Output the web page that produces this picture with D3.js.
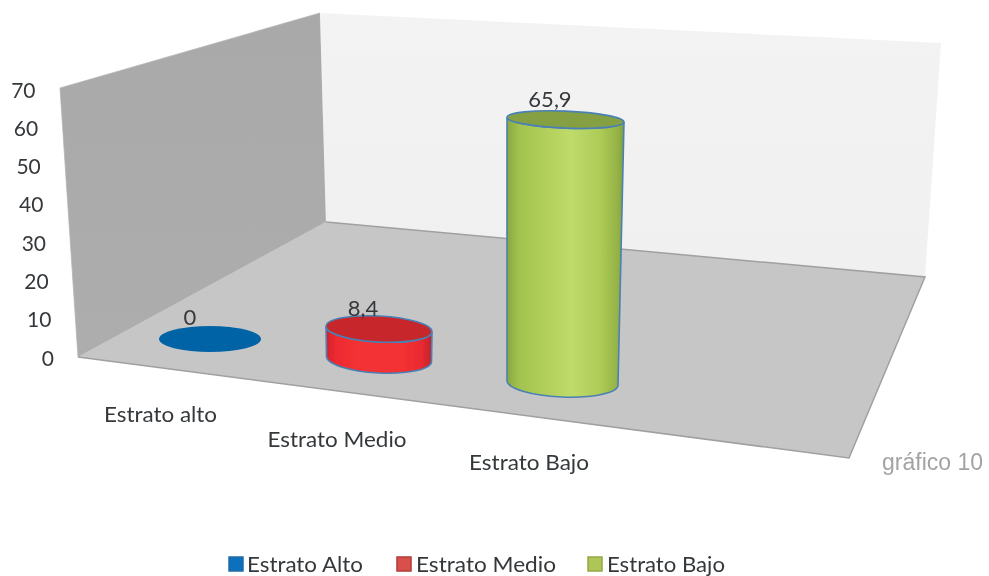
<!DOCTYPE html>
<html><head><meta charset="utf-8">
<script src="https://cdn.jsdelivr.net/npm/d3@7"></script>
<style>html,body{margin:0;padding:0;background:#fff;overflow:hidden}svg{display:block}</style>
</head><body><svg id="c" width="989" height="576"></svg>
<script>
const categories=["Estrato alto","Estrato Medio","Estrato Bajo"];
const legendLabels=["Estrato Alto","Estrato Medio","Estrato Bajo"];
const values=[0,8.4,65.9];
const valueLabels=["0","8,4","65,9"];
const yTicks=[0,10,20,30,40,50,60,70];
const footnote="gráfico 10";

const W=989,H=576,idx=[0,1,2];
const svg=d3.select("#c").attr("viewBox",`0 0 ${W} ${H}`);
const defs=svg.append("defs");
const F="Lato, 'Open Sans', sans-serif", INK="#36393b";

defs.append("filter").attr("id","soft").append("feGaussianBlur").attr("stdDeviation",0.55);
function grad(id,stops,x2=1,y2=0){
  const g=defs.append("linearGradient").attr("id",id).attr("x1",0).attr("y1",0).attr("x2",x2).attr("y2",y2);
  stops.forEach(s=>g.append("stop").attr("offset",s[0]).attr("stop-color",s[1]));
}
grad("gRed",[[0,"#d3222c"],[0.1,"#ee2a30"],[0.3,"#f33234"],[0.7,"#f33234"],[0.9,"#e92a30"],[1,"#c1232b"]]);
grad("gGreen",[[0,"#87a83f"],[0.1,"#a2c24f"],[0.4,"#b6d35f"],[0.55,"#bfdb6b"],[0.8,"#aecb57"],[0.95,"#93b145"],[1,"#7f9f3b"]]);
grad("gLeft",[[0,"#a9a9a9"],[1,"#adadad"]],0,1);
grad("gBack",[[0,"#f3f3f3"],[1,"#f0f0f0"]],0,1);

// Perspective scales
const yScale=d3.scaleLinear().domain([0,70]).range([357,88]);
const tickX=d3.scaleLinear().domain([0,70]).range([54,35.5]);
const tickY=d3.scaleLinear().domain([0,70]).range([358,90]);
const cx=d3.scaleLinear().domain(idx).range([210,379,562.5]);
const cyBase=d3.scaleLinear().domain(idx).range([339,359,383]);
const rxBase=d3.scaleLinear().domain(idx).range([51,52.5,55.5]);
const ryBase=d3.scaleLinear().domain(idx).range([13,14,14]);
const topRy=d3.scaleLinear().domain(idx).range([13,13,8.5]);
const depth=d3.scaleLinear().domain(idx).range([0.92,0.93,1.04]);
const poly=p=>d3.line()(p)+"Z";

const chart=svg.append("g").attr("filter","url(#soft)");
// walls and floor
chart.append("path").attr("d",poly([[60,88],[320,13],[326,222],[78,357]])).attr("fill","url(#gLeft)").attr("stroke","#b4b4b4").attr("stroke-width",0.8);
chart.append("path").attr("d",poly([[320,13],[941,43],[925,277],[326,222]])).attr("fill","url(#gBack)");
chart.append("path").attr("d",poly([[78,357],[326,222],[925,277],[849,458]])).attr("fill","#c6c6c6");
chart.append("path").attr("d",d3.line()([[326,222],[925,277],[849,458],[78,357]])).attr("fill","none").attr("stroke","#a0a0a0").attr("stroke-width",1.5);

const EDGE="#4a80b5";
// blue disc
chart.append("ellipse").attr("cx",cx(0)).attr("cy",cyBase(0)).attr("rx",rxBase(0)).attr("ry",ryBase(0))
  .attr("fill","#0364a6");

// cylinders
function cyl(i,side,top){
  const h=(yScale(0)-yScale(values[i]))*depth(i);
  const x0=cx(i), b=cyBase(i), t=b-h;
  const tx=x0+(i===2?3:0), rxT=rxBase(i)+(i===2?3:0.5), ryT=topRy(i), ryB=ryBase(i), rxB=rxBase(i);
  const tilt=i===2?2.4:3;
  const rad=tilt*Math.PI/180, dy=Math.sin(rad);
  const tl=[tx-rxT,t-rxT*dy], tr=[tx+rxT,t+rxT*dy];
  const bl=[x0-rxB,b-rxB*dy], br=[x0+rxB,b+rxB*dy];
  chart.append("path")
    .attr("d",`M${tl}L${bl}A${rxB},${ryB} ${tilt} 0 0 ${br}L${tr}A${rxT},${ryT} ${tilt} 0 1 ${tl}Z`)
    .attr("fill",side).attr("stroke",EDGE).attr("stroke-width",1.6);
  chart.append("ellipse").attr("rx",rxT).attr("ry",ryT)
    .attr("transform",`translate(${tx},${t}) rotate(${tilt})`)
    .attr("fill",top).attr("stroke",EDGE).attr("stroke-width",1.6);
}
cyl(1,"url(#gRed)","#c7252b");
cyl(2,"url(#gGreen)","#84a043");

// text
const text=svg.append("g").attr("font-family",F).attr("fill",INK).attr("filter","url(#soft)");
text.selectAll(".yt").data(yTicks).join("text").attr("class","yt")
  .attr("x",d=>tickX(d)).attr("y",d=>tickY(d)).attr("dy","0.36em")
  .attr("text-anchor","end").attr("font-size",21).text(d=>d);

const catX=d3.scaleLinear().domain(idx).range([160.5,337,529]);
const catY=d3.scaleLinear().domain(idx).range([414.5,439.5,462.5]);
const catW=[113,139,120];
text.selectAll(".cat").data(categories).join("text").attr("class","cat")
  .attr("x",(d,i)=>catX(i)).attr("y",(d,i)=>catY(i)).attr("dy","0.36em")
  .attr("text-anchor","middle").attr("font-size",21)
  .attr("textLength",(d,i)=>catW[i]).attr("lengthAdjust","spacingAndGlyphs").text(d=>d);

const valX=d3.scaleLinear().domain(idx).range([190,363,550]);
const valY=d3.scaleLinear().domain(idx).range([317,308,99]);
text.selectAll(".val").data(valueLabels).join("text").attr("class","val")
  .attr("x",(d,i)=>valX(i)).attr("y",(d,i)=>valY(i)).attr("dy","0.36em")
  .attr("text-anchor","middle").attr("font-size",22).text(d=>d);

svg.append("text").attr("x",882).attr("y",462).attr("dy","0.36em")
  .attr("font-family","'Liberation Sans', Arial, sans-serif").attr("font-size",23).attr("fill","#a3a3a3").attr("filter","url(#soft)").text(footnote);

// legend
const legendFill=["#0a70bd","#d9504c","#afc556"], legendEdge=["#1f6cab","#b03a38","#93a848"];
const swX=[228,396,587], txX=[247,416,607], txW=[116,140,118];
const lg=svg.append("g").attr("filter","url(#soft)");
legendLabels.forEach((l,i)=>{
  lg.append("rect").attr("x",swX[i]+1).attr("y",557).attr("width",14).attr("height",14)
    .attr("fill",legendFill[i]).attr("stroke",legendEdge[i]).attr("stroke-width",1.5);
  lg.append("text").attr("x",txX[i]).attr("y",564).attr("dy","0.36em")
    .attr("font-family",F).attr("font-size",21).attr("fill",INK)
    .attr("textLength",txW[i]).attr("lengthAdjust","spacingAndGlyphs").text(l);
});
</script></body></html>
